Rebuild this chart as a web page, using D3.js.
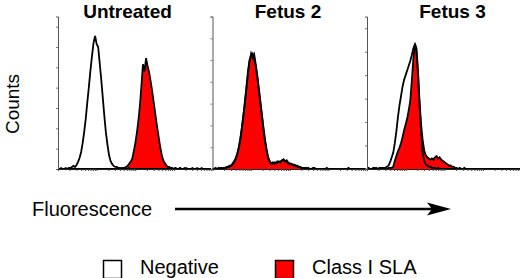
<!DOCTYPE html>
<html>
<head>
<meta charset="utf-8">
<script src="https://cdn.jsdelivr.net/npm/d3@7"></script>
<style>
  html, body { margin: 0; padding: 0; background: #fff; }
  svg { display: block; font-family: "Liberation Sans", Arial, sans-serif; }
</style>
</head>
<body>
<div id="chart"></div>
<script>
// panel titles and per-panel count scale max
const panelTitles = ["Untreated", "Fetus 2", "Fetus 3"];
const yMaxCounts = [150, 140, 130];
const legendLabels = ["Negative", "Class I SLA"];

// histogram counts, 100 fluorescence channels per panel
const negativeUntreated = [
  0,0,1,0,0,1,0,1,1,2, 3,2,4,7,11,17,26,37,50,66,
  81,97,111,124,131,123,120,104,88,70, 52,36,24,14,8,5,3,2,2,1,
  1,0,1,1,0,0,1,0,0,0, 0,0,0,0,0,0,0,0,0,0,
  0,0,0,0,0,0,0,0,0,0, 0,0,0,0,0,0,1,0,0,1,
  0,0,1,0,0,0,0,1,0,0, 0,0,0,1,0,0,0,0,0,0
];
const classIUntreated = [
  0,0,0,0,0,0,0,0,0,0, 0,0,0,0,0,0,0,0,0,0,
  0,0,0,0,0,0,0,0,0,0, 0,0,0,0,0,0,0,0,0,0,
  0,1,0,1,2,3,5,7,10,17, 25,35,47,62,82,103,96,109,101,95,
  86,76,65,54,43,33,23,15,9,6, 4,2,2,1,1,0,1,0,0,1,
  0,0,0,1,0,0,0,0,0,0, 1,0,0,0,0,0,0,0,0,0
];
const negativeFetus2 = [
  0,0,1,0,0,1,1,0,1,2, 2,3,3,5,7,10,14,20,28,38,
  50,62,76,90,100,104,106,101,94,84, 72,60,48,36,25,17,10,7,5,6,
  5,6,7,6,7,8,8,7,7,5, 5,4,4,3,3,2,2,1,1,1,
  0,1,0,0,0,0,1,0,0,0, 0,0,0,0,1,0,0,0,0,0,
  0,0,0,0,0,0,0,0,1,0, 0,0,0,0,0,0,0,0,0,0
];
const classIFetus2 = [
  0,0,0,0,1,0,0,1,1,1, 2,2,3,4,6,9,13,19,27,37,
  48,61,74,88,99,106,102,105,96,86, 74,62,50,38,27,18,11,7,5,5,
  6,5,6,7,6,8,9,7,8,6, 5,5,4,4,3,3,2,2,1,1,
  1,0,1,0,0,1,0,0,0,0, 0,0,0,0,0,0,0,0,0,0,
  0,0,0,0,0,0,0,0,0,0, 0,0,0,0,0,0,0,0,0,0
];
const negativeFetus3 = [
  0,1,0,0,1,0,1,0,1,1, 1,1,1,2,3,6,10,14,22,32,
  44,54,62,70,76,80,84,88,92,97, 103,106,100,80,55,32,14,7,4,3,
  2,2,1,1,1,0,1,0,0,0, 0,0,0,0,0,0,0,0,0,0,
  0,0,0,1,0,0,0,0,0,0, 0,0,0,0,0,0,0,0,0,0,
  0,0,0,0,0,0,0,0,0,0, 0,0,0,0,0,0,0,0,0,0
];
const classIFetus3 = [
  0,0,0,0,0,1,0,0,0,0, 0,0,1,0,1,1,1,2,7,11,
  15,18,22,27,33,38,43,50,58,75, 94,107,103,84,58,38,25,16,12,10,
  9,8,9,8,10,11,9,10,8,7, 6,5,4,3,3,2,2,1,1,0,
  1,0,0,0,0,0,0,0,0,0, 0,0,0,0,0,0,0,0,0,0,
  0,0,0,0,0,0,0,0,0,0, 0,0,0,0,0,0,0,0,0,0
];

const negativeSeries = [negativeUntreated, negativeFetus2, negativeFetus3];
const classISeries = [classIUntreated, classIFetus2, classIFetus3];

const W = 520, H = 278;
const plotLeft = 58, panelW = 154.5, plotTop = 16.5, plotBottom = 169;
const titleX = [127.5, 288, 452.5];
const nBins = 100;
const red = "#f00";

const svg = d3.select("#chart").append("svg")
  .attr("width", W).attr("height", H);

// fluorescence axis (log decades) for ticks only
const logX = d3.scaleLog().domain([1, 10000]).range([0, panelW]);
const minorTicks = [];
[1, 10, 100, 1000].forEach(dec => {
  for (let m = 1; m < 10; m++) minorTicks.push(dec * m);
});

panelTitles.forEach((title, k) => {
  const g = svg.append("g")
    .attr("transform", `translate(${plotLeft + k * panelW}, 0)`);

  const x = d3.scaleLinear().domain([0, nBins]).range([0, panelW]);
  const y = d3.scaleLinear().domain([0, yMaxCounts[k]]).range([plotBottom, plotTop]);

  // class I filled area
  const area = d3.area()
    .x((d, i) => x(i))
    .y0(y(0))
    .y1(d => y(d));
  const line = d3.line()
    .x((d, i) => x(i))
    .y(d => y(d));

  g.append("path")
    .datum(classISeries[k])
    .attr("d", area)
    .attr("fill", red);

  g.append("path")
    .datum(negativeSeries[k])
    .attr("d", line)
    .attr("fill", "none")
    .attr("stroke", "#000")
    .attr("stroke-width", 1.8);

  g.append("path")
    .datum(classISeries[k])
    .attr("d", line)
    .attr("fill", "none")
    .attr("stroke", "#000")
    .attr("stroke-width", 1.8);

  // y axis: small ticks, no labels
  const yAx = g.append("g")
    .call(d3.axisLeft(y).tickValues(d3.range(20, yMaxCounts[k] + 1, 20)).tickSize(2).tickFormat(""));
  yAx.select(".domain").attr("stroke", "#555").attr("stroke-width", 1);
  yAx.selectAll(".tick line").attr("stroke", "#777");

  // x axis baseline with log minor ticks
  const xAx = g.append("g")
    .attr("transform", `translate(0, ${plotBottom})`)
    .call(d3.axisBottom(logX).tickValues(minorTicks).tickSize(2).tickSizeOuter(0).tickFormat(""));
  xAx.select(".domain").attr("stroke", "#222").attr("stroke-width", 1.2);
  xAx.selectAll(".tick line").attr("stroke", "#444");

  svg.append("text")
    .attr("x", titleX[k])
    .attr("y", 17.5)
    .attr("text-anchor", "middle")
    .style("font-size", "19px")
    .style("font-weight", "bold")
    .text(title);
});

// y label
svg.append("text")
  .attr("transform", "translate(18.5, 104) rotate(-90)")
  .attr("text-anchor", "middle")
  .style("font-size", "19px")
  .text("Counts");

// x label with arrow
svg.append("text")
  .attr("x", 32)
  .attr("y", 216)
  .style("font-size", "20px")
  .text("Fluorescence");

svg.append("line")
  .attr("x1", 175).attr("x2", 436)
  .attr("y1", 209).attr("y2", 209)
  .attr("stroke", "#000")
  .attr("stroke-width", 2.5);

svg.append("path")
  .attr("d", "M451,209 L427,202.5 L432,209 L427,215.5 Z")
  .attr("fill", "#000");

// legend
const legendX = [103.5, 275.5];
legendLabels.forEach((lab, i) => {
  svg.append("rect")
    .attr("x", legendX[i]).attr("y", 260.5)
    .attr("width", 18).attr("height", 18)
    .attr("fill", i === 0 ? "#fff" : red)
    .attr("stroke", "#000")
    .attr("stroke-width", 1.5);
  svg.append("text")
    .attr("x", legendX[i] + 36.5)
    .attr("y", 273.5)
    .style("font-size", "20px")
    .text(lab);
});
</script>
</body>
</html>
